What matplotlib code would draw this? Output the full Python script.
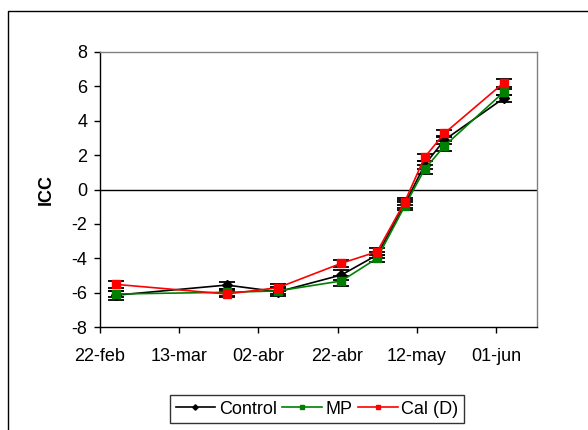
import matplotlib
matplotlib.use("Agg")
import matplotlib.pyplot as plt
from matplotlib.lines import Line2D
import datetime as dt

plt.rcParams['font.family'] = ['Liberation Sans', 'DejaVu Sans']

# ---- data ----
dates = ["2008-02-26", "2008-03-25", "2008-04-07", "2008-04-23", "2008-05-02",
         "2008-05-09", "2008-05-14", "2008-05-19", "2008-06-03"]
control = [-6.15, -5.56, -5.95, -4.97, -3.81, -0.85, 1.43, 2.88, 5.31]
control_err = [0.25, 0.2, 0.22, 0.3, 0.2, 0.25, 0.25, 0.25, 0.2]
mp = [-6.08, -5.98, -5.90, -5.32, -4.00, -0.96, 1.18, 2.53, 5.67]
mp_err = [0.2, 0.2, 0.2, 0.3, 0.2, 0.25, 0.25, 0.3, 0.2]
cal = [-5.52, -6.08, -5.71, -4.29, -3.62, -0.71, 1.87, 3.27, 6.21]
cal_err = [0.22, 0.2, 0.22, 0.2, 0.2, 0.2, 0.2, 0.2, 0.22]

series_names = ["Control", "MP", "Cal (D)"]
xtick_dates = ["2008-02-22", "2008-03-13", "2008-04-02", "2008-04-22", "2008-05-12", "2008-06-01"]
xtick_labels = ["22-feb", "13-mar", "02-abr", "22-abr", "12-may", "01-jun"]
yticks = [-8, -6, -4, -2, 0, 2, 4, 6, 8]

x = [dt.datetime.strptime(d, "%Y-%m-%d") for d in dates]
xt = [dt.datetime.strptime(d, "%Y-%m-%d") for d in xtick_dates]

fig = plt.figure(figsize=(5.88, 4.30), dpi=100)
W, H = 588, 430
ax = fig.add_axes([100 / W, 1 - 327 / H, (537 - 100) / W, (327 - 52) / H])

# outer frame
fig.add_artist(Line2D([8 / W, 8 / W, 1.0], [0.0, 1 - 11 / H, 1 - 11 / H],
                      transform=fig.transFigure, color='black', lw=1.0))

fs = 13
ax.axhline(0, color='black', lw=1.0, zorder=1)

styles = [
    (control, control_err, 'black', 'D', 5),
    (mp, mp_err, '#008000', 's', 5.5),
    (cal, cal_err, '#FF0000', 's', 5.5),
]
handles = []
for (vals, err, col, mk, ms), name in zip(styles, series_names):
    ax.errorbar(x, vals, yerr=err, fmt='none', ecolor='black', elinewidth=1.0,
                capsize=5.5, capthick=1.3, zorder=2)
    h, = ax.plot(x, vals, color=col, marker=mk, markersize=ms, lw=1.2,
                 markeredgecolor=col, zorder=3, label=name)
    handles.append(h)

ax.set_xlim(dt.datetime(2008, 2, 22), dt.datetime(2008, 2, 22) + dt.timedelta(days=110.4))
ax.set_ylim(-8, 8)
ax.set_xticks(xt)
ax.set_xticklabels(xtick_labels, fontsize=fs)
ax.set_yticks(yticks)
ax.set_yticklabels([str(v) for v in yticks], fontsize=fs)
ax.tick_params(axis='both', direction='out', length=4, width=1, pad=5, colors='black')
ax.tick_params(axis='x', pad=11)
for s in ['left', 'bottom']:
    ax.spines[s].set_color('black')
    ax.spines[s].set_linewidth(1.0)
for s in ['top', 'right']:
    ax.spines[s].set_color('#808080')
    ax.spines[s].set_linewidth(1.0)

ax.set_ylabel("ICC", fontsize=fs, fontweight='bold', labelpad=12)

leg = fig.legend(handles=handles, loc='center', bbox_to_anchor=(317 / W, 1 - 409 / H),
                 ncol=3, fontsize=fs, frameon=True, fancybox=False, edgecolor='black',
                 handlelength=2.2, handletextpad=0.2, columnspacing=0.3, borderpad=0.3,
                 markerscale=0.55)
leg.get_frame().set_linewidth(1.0)

fig.savefig("out.png", dpi=100)
